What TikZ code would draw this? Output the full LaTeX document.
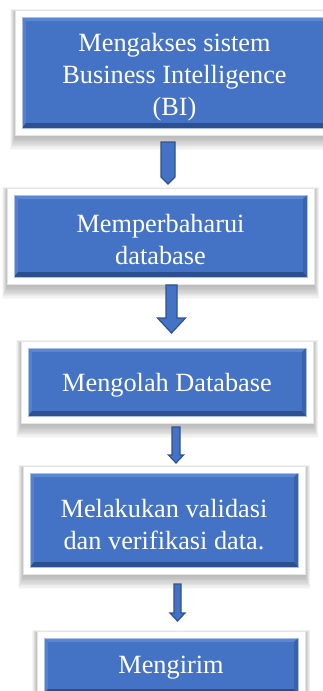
\documentclass[tikz,border=0pt]{standalone}
\usepackage{fontspec}
\setmainfont{Liberation Serif}
\usetikzlibrary{calc}
\definecolor{boxblue}{HTML}{4472C4}
\definecolor{bevtop}{HTML}{5B87D2}
\definecolor{bevleft}{HTML}{5480CE}
\definecolor{bevright}{HTML}{3A63AE}
\definecolor{bevbot}{HTML}{2C4F8F}
\definecolor{arrowedge}{HTML}{2F528F}
\tikzset{
  boxtext/.style={text=white, align=center, inner sep=0pt,
    font=\fontsize{26.3}{32}\selectfont},
  arrowshape/.style={fill=boxblue, draw=arrowedge, line width=1.2pt, line join=miter}
}
% #1 name, #2 x1, #3 y1, #4 x2, #5 y2, #6 text, #7 text centre shift downwards
\newcommand\flowbox[7]{%
  \foreach \k in {1,...,10}{\fill[black,opacity=0.026] (#2-7-\k*0.5,#3-7-\k*0.3+2) rectangle (#4+7+\k*0.5,#5+7+\k*1.3+2);}
  \fill[white] (#2-7,#3-7) rectangle (#4+7,#5+7);
  \draw[black!10, line width=0.4pt] (#2-7,#3-7) rectangle (#4+7,#5+7);
  \fill[boxblue] (#2,#3) rectangle (#4,#5);
  \fill[bevtop] (#2,#3) -- (#4,#3) -- (#4-4,#3+4) -- (#2+4,#3+4) -- cycle;
  \fill[bevleft] (#2,#3) -- (#2+4,#3+4) -- (#2+4,#5-5) -- (#2,#5) -- cycle;
  \fill[bevright] (#4,#3) -- (#4-4,#3+4) -- (#4-4,#5-5) -- (#4,#5) -- cycle;
  \fill[bevbot] (#2,#5) -- (#2+4,#5-5) -- (#4-4,#5-5) -- (#4,#5) -- cycle;
  \draw[boxblue!45!white, line width=0.8pt] (#2,#3) rectangle (#4,#5);
  \node[boxtext, minimum width={#4pt-#2pt}, minimum height={#5pt-#3pt}] (#1) at ({(#2+#4)/2},{(#3+#5)/2}) {};
  \node[boxtext] (#1text) at ($(#1.center)+(0,#7)$) {#6};
}
% #1 top coordinate name, #2 tip coordinate name, #3 head length, #4 half shaft, #5 half head
\newcommand\blockarrow[5]{%
  \path (#1); \pgfgetlastxy{\ax}{\ay}
  \path (#2); \pgfgetlastxy{\bx}{\by}
  \filldraw[arrowshape] (\ax-#4pt,\ay) -- (\ax+#4pt,\ay) -- (\ax+#4pt,\by+#3pt) -- (\ax+#5pt,\by+#3pt)
    -- (\bx,\by) -- (\ax-#5pt,\by+#3pt) -- (\ax-#4pt,\by+#3pt) -- cycle;
}
\begin{document}
\begin{tikzpicture}[x=1pt,y=-1pt]
\useasboundingbox (0,0) rectangle (323,691);
\fill[white] (0,0) rectangle (323,691);
\clip (0,0) rectangle (323,691);

\flowbox{b1}{22}{17}{327}{128}{Mengakses sistem\\Business Intelligence\\(BI)}{5}
\flowbox{b2}{14}{195}{307}{277}{Memperbaharui\\database}{3.5}
\flowbox{b3}{28}{348}{306}{416}{Mengolah Database}{3}
\flowbox{b4}{30}{473}{298}{567}{Melakukan validasi\\dan verifikasi data.}{4.5}
\flowbox{b5}{44}{638}{298}{694}{Mengirim}{1.5}

\coordinate (a1t) at (168,142);
\coordinate (a1e) at (168,184);
\coordinate (a2t) at (171.5,285);
\coordinate (a2e) at (171.5,333);
\coordinate (a3t) at (176,427);
\coordinate (a3e) at (176,463);
\coordinate (a4t) at (177.5,584);
\coordinate (a4e) at (177.5,621);

\blockarrow{a1t}{a1e}{7}{7}{7}
\blockarrow{a2t}{a2e}{15}{5.5}{14}
\blockarrow{a3t}{a3e}{8}{4}{7.5}
\blockarrow{a4t}{a4e}{8}{3.5}{7.5}
\end{tikzpicture}
\end{document}
